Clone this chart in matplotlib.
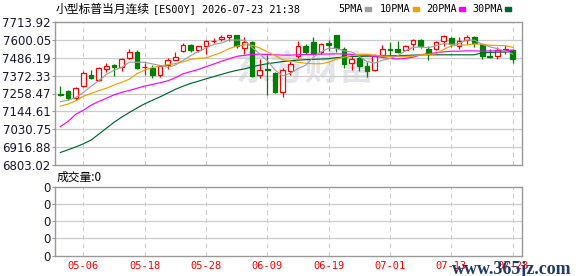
import matplotlib
matplotlib.use('Agg')
import matplotlib.pyplot as plt
import numpy as np

# candle data, one per trading day (05-01 .. 07-23)
opens = [7256, 7275, 7227, 7305, 7379, 7343, 7412, 7440, 7427, 7486,
         7526, 7425, 7421, 7379, 7438, 7474, 7528, 7570, 7537, 7562,
         7592, 7604, 7617, 7632, 7549, 7589, 7379, 7417, 7389, 7269,
         7402, 7499, 7564, 7589, 7522, 7583, 7634, 7543, 7452, 7486,
         7436, 7406, 7503, 7543, 7539, 7537, 7575, 7600, 7543, 7543,
         7592, 7613, 7564, 7600, 7621, 7571, 7495, 7495, 7537, 7537]
highs = [7305, 7279, 7301, 7400, 7410, 7427, 7452, 7448, 7486, 7543,
         7533, 7452, 7438, 7438, 7486, 7526, 7579, 7575, 7564, 7600,
         7613, 7634, 7634, 7634, 7617, 7596, 7480, 7501, 7396, 7421,
         7465, 7590, 7575, 7617, 7583, 7600, 7634, 7554, 7495, 7495,
         7459, 7507, 7570, 7585, 7596, 7570, 7606, 7606, 7564, 7596,
         7634, 7621, 7621, 7634, 7627, 7575, 7543, 7554, 7570, 7541]
lows = [7242, 7216, 7220, 7301, 7353, 7336, 7396, 7372, 7402, 7480,
        7414, 7379, 7360, 7364, 7414, 7474, 7522, 7522, 7522, 7511,
        7583, 7590, 7592, 7549, 7512, 7364, 7360, 7248, 7263, 7237,
        7379, 7486, 7512, 7501, 7512, 7528, 7522, 7423, 7406, 7402,
        7364, 7402, 7495, 7495, 7516, 7533, 7533, 7549, 7474, 7533,
        7558, 7554, 7543, 7571, 7554, 7480, 7486, 7480, 7512, 7452]
closes = [7252, 7227, 7294, 7391, 7360, 7421, 7435, 7429, 7480, 7526,
          7421, 7427, 7379, 7431, 7474, 7490, 7570, 7537, 7558, 7592,
          7596, 7617, 7632, 7558, 7587, 7368, 7406, 7410, 7267, 7406,
          7444, 7560, 7520, 7516, 7575, 7566, 7547, 7448, 7480, 7431,
          7402, 7499, 7543, 7533, 7520, 7562, 7600, 7558, 7512, 7585,
          7627, 7571, 7592, 7621, 7579, 7499, 7490, 7533, 7543, 7480]

# moving averages
ma5 = [7206, 7216, 7232, 7265, 7305, 7339, 7380, 7407, 7425, 7458,
       7458, 7457, 7447, 7437, 7426, 7440, 7469, 7500, 7526, 7549,
       7571, 7580, 7599, 7599, 7598, 7552, 7510, 7466, 7408, 7371,
       7387, 7417, 7439, 7489, 7523, 7547, 7545, 7530, 7523, 7494,
       7462, 7452, 7471, 7482, 7499, 7531, 7552, 7555, 7550, 7563,
       7576, 7571, 7577, 7599, 7598, 7572, 7556, 7544, 7529, 7509]
ma10 = [7178, 7191, 7212, 7240, 7259, 7276, 7292, 7312, 7330, 7350,
        7385, 7408, 7424, 7434, 7442, 7449, 7460, 7476, 7482, 7485,
        7503, 7520, 7544, 7560, 7568, 7566, 7548, 7525, 7500, 7474,
        7465, 7457, 7451, 7448, 7448, 7458, 7478, 7490, 7500, 7507,
        7507, 7503, 7497, 7495, 7495, 7495, 7496, 7505, 7507, 7512,
        7540, 7562, 7566, 7568, 7574, 7572, 7566, 7564, 7564, 7552]
ma20 = [7048, 7080, 7126, 7152, 7184, 7208, 7228, 7250, 7266, 7278,
        7292, 7306, 7316, 7327, 7339, 7359, 7384, 7398, 7412, 7429,
        7446, 7464, 7479, 7495, 7502, 7507, 7509, 7507, 7505, 7503,
        7503, 7505, 7507, 7507, 7509, 7510, 7511, 7510, 7507, 7503,
        7501, 7495, 7488, 7482, 7478, 7482, 7490, 7505, 7513, 7518,
        7524, 7528, 7528, 7530, 7530, 7528, 7530, 7530, 7532, 7535]
ma30 = [6883, 6900, 6918, 6938, 6962, 6999, 7037, 7075, 7108, 7138,
        7166, 7193, 7215, 7237, 7261, 7285, 7305, 7323, 7337, 7352,
        7366, 7380, 7394, 7406, 7415, 7428, 7440, 7448, 7455, 7462,
        7467, 7471, 7474, 7476, 7478, 7480, 7487, 7491, 7494, 7495,
        7496, 7497, 7498, 7499, 7500, 7501, 7503, 7505, 7505, 7505,
        7505, 7505, 7505, 7505, 7505, 7518, 7520, 7522, 7522, 7526]

yticks = [7713.92, 7600.05, 7486.19, 7372.33, 7258.47, 7144.61, 7030.75, 6916.88, 6803.02]
xlabels = ['05-06', '05-18', '05-28', '06-09', '06-19', '07-01', '07-13', '07-23']
xlabel_pos = [3, 11, 19, 27, 35, 43, 51, 59]

cjk = ['Noto Sans CJK SC', 'DejaVu Sans']
mono = 'DejaVu Sans Mono'
red = '#ff0000'
green = '#008000'
grid_c = '#cccccc'
spine_c = '#999999'
label_c = '#161630'

fig = plt.figure(figsize=(5.78, 2.76), dpi=100)
ax = fig.add_axes([55 / 578, 1 - 165 / 276, 467 / 578, 143 / 276])
axv = fig.add_axes([55 / 578, 1 - 255.7 / 276, 467 / 578, 69 / 276])

x = np.arange(len(closes))

for a in (ax, axv):
    a.set_xlim(-0.7, 60.2)
    for s in a.spines.values():
        s.set_color(spine_c)
        s.set_linewidth(1)
    for p in xlabel_pos:
        a.axvline(p, color=grid_c, lw=0.8, ls=(0, (4, 3.5)), zorder=0.8)
    a.tick_params(axis='y', length=2, color=spine_c, pad=1, labelsize=8.5, labelcolor=label_c)
    a.set_xticks([])

ax.set_ylim(yticks[-1], yticks[0])
ax.set_yticks(yticks)
ax.set_yticklabels(['%.2f' % v for v in yticks])
for v in yticks[1:-1]:
    ax.axhline(v, color=grid_c, lw=0.9, zorder=0.8)

# watermark
ax.text(32, 7412, '东方财富', fontsize=25, color='#e4e4ea', fontweight='bold',
        family=cjk, ha='center', va='center', zorder=0.5)

# candles
w = 0.62
for i in x:
    o, h, l, c = opens[i], highs[i], lows[i], closes[i]
    lo, hi = min(o, c), max(o, c)
    hgt = max(hi - lo, 1.0)
    if c >= o:
        ax.vlines(i, l, lo, color=red, lw=0.9, zorder=2)
        ax.vlines(i, hi, h, color=red, lw=0.9, zorder=2)
        ax.bar(i, hgt, w, bottom=lo, facecolor='white', edgecolor=red, lw=0.9, zorder=2)
    else:
        ax.vlines(i, l, h, color=green, lw=0.9, zorder=2)
        ax.bar(i, hgt, w, bottom=lo, facecolor=green, edgecolor=green, lw=0.9, zorder=2)

ax.plot(x, ma30, color='#006633', lw=0.85, zorder=3)
ax.plot(x, ma20, color='#ff00ff', lw=0.85, zorder=3)
ax.plot(x, ma10, color='#f0a000', lw=0.85, zorder=3)
ax.plot(x, ma5, color='#a0a0a0', lw=0.85, zorder=3)

# volume panel (empty, all zero)
axv.set_ylim(0, 4)
axv.set_yticks([0, 1, 2, 3, 4])
axv.set_yticklabels(['0'] * 5)
for v in [1, 2, 3]:
    axv.axhline(v, color=grid_c, lw=0.9, zorder=0.8)

for p, lab in zip(xlabel_pos, xlabels):
    axv.text(p, -0.6, lab, color=red, fontsize=7.5, family=mono, ha='center', va='center')

# header texts
fig.text(56 / 578, 1 - 9 / 276, '小型标普当月连续', fontsize=8.5, family=cjk, va='center', ha='left')
fig.text(153 / 578, 1 - 9 / 276, '[ES00Y] 2026-07-23 21:38', fontsize=7.3, family=mono,
         va='center', ha='left')

legend_items = [('5PMA', 338, 365, '#a0a0a0'), ('10PMA', 380, 413, '#f0a000'),
                ('20PMA', 426, 459, '#ff00ff'), ('30PMA', 472, 505, '#006633')]
for name, tx, sx, col in legend_items:
    fig.text(tx / 578, 1 - 9 / 276, name, fontsize=7.3, family=mono, va='center', ha='left')
    fig.patches.append(plt.Rectangle((sx / 578, 1 - 11 / 276), 6 / 578, 4 / 276,
                                     transform=fig.transFigure, color=col, figure=fig))

fig.text(57 / 578, 1 - 177 / 276, '成交量:0', fontsize=8.5, family=cjk, va='center', ha='left')

fig.text(512 / 578, 1 - 269 / 276, 'www.365jz.com', fontsize=13, family='Liberation Serif',
         fontweight='bold', color='#1f3a6e', va='center', ha='center')

fig.savefig('out.png', dpi=100, facecolor='white')
